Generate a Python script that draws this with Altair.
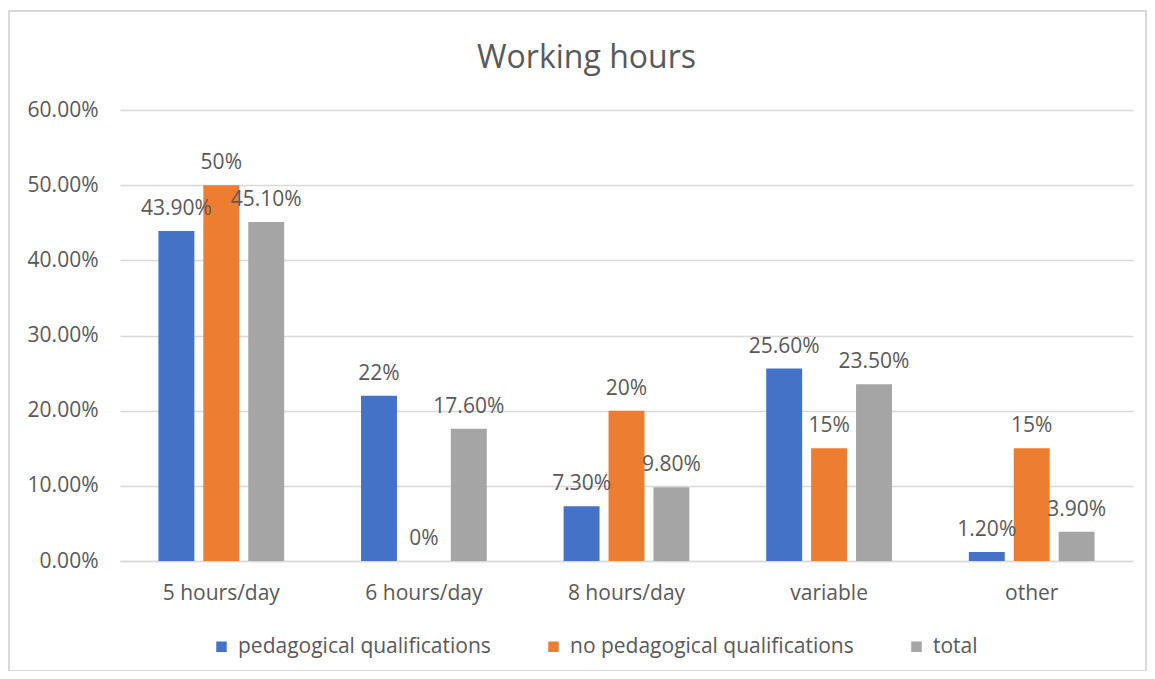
import altair as alt
import pandas as pd

categories = ["5 hours/day", "6 hours/day", "8 hours/day", "variable", "other"]
series = ["pedagogical qualifications", "no pedagogical qualifications", "total"]
pedagogical = [0.439, 0.22, 0.073, 0.256, 0.012]
no_pedagogical = [0.50, 0.0, 0.20, 0.15, 0.15]
total = [0.451, 0.176, 0.098, 0.235, 0.039]
labels_ped = ["43.90%", "22%", "7.30%", "25.60%", "1.20%"]
labels_nop = ["50%", "0%", "20%", "15%", "15%"]
labels_tot = ["45.10%", "17.60%", "9.80%", "23.50%", "3.90%"]
colors = ["#4472C4", "#ED7D31", "#A5A5A5"]

rows = []
for vals, labs, s in [(pedagogical, labels_ped, series[0]),
                      (no_pedagogical, labels_nop, series[1]),
                      (total, labels_tot, series[2])]:
    for c, v, l in zip(categories, vals, labs):
        rows.append({"category": c, "series": s, "value": v, "label": l})
df = pd.DataFrame(rows)

FONT = "Open Sans"
TXT = "#595959"
FS = 21

x = alt.X("category:N", sort=categories, title=None,
          scale=alt.Scale(paddingInner=0.335, paddingOuter=0.1675),
          axis=alt.Axis(labelAngle=0, labelFontSize=FS, labelColor=TXT, labelFont=FONT,
                        ticks=False, domainColor="#D9D9D9", domainWidth=1.5, labelPadding=21))
xo = alt.XOffset("series:N", sort=series, scale=alt.Scale(paddingInner=0.2, paddingOuter=0.1))
y = alt.Y("value:Q", title=None,
          scale=alt.Scale(domain=[0, 0.6]),
          axis=alt.Axis(format=".2%", values=[0, 0.1, 0.2, 0.3, 0.4, 0.5, 0.6],
                        labelFontSize=FS, labelColor=TXT, labelFont=FONT, ticks=False,
                        domain=False, gridColor="#D9D9D9", gridWidth=1.5, labelPadding=22))

bars = alt.Chart(df).mark_bar().encode(
    x=x, xOffset=xo, y=y,
    color=alt.Color("series:N", sort=series,
                    scale=alt.Scale(domain=series, range=colors),
                    legend=alt.Legend(title=None, orient="none", direction="horizontal",
                                      legendX=91, legendY=526,
                                      symbolType="square", symbolSize=110, symbolStrokeWidth=0,
                                      labelFontSize=FS, labelColor=TXT, labelFont=FONT,
                                      labelLimit=0,
                                      columnPadding=52, symbolOffset=0, labelOffset=6)),
)

text = alt.Chart(df).mark_text(baseline="bottom", dy=-12, fontSize=FS, color=TXT, font=FONT).encode(
    x=x, xOffset=xo, y=y, text="label:N"
)

border = alt.Chart(pd.DataFrame({"a": [0]})).mark_rect(
    fill=None, stroke="#D9D9D9", strokeWidth=2
).encode(x=alt.value(-111), x2=alt.value(1026), y=alt.value(-99), y2=alt.value(561))

chart = alt.layer(border, bars, text).properties(
    width=1013, height=451,
    title=alt.TitleParams("Working hours", fontSize=32, color=TXT, font=FONT,
                          fontWeight="normal", anchor="middle", dx=-40, dy=65, offset=0),
    autosize=alt.AutoSizeParams(type="none"),
    padding={"left": 112, "top": 102, "right": 14, "bottom": 110},
).configure_view(stroke=None)

chart.save("out.html", embed_options={"renderer": "svg", "actions": False})
